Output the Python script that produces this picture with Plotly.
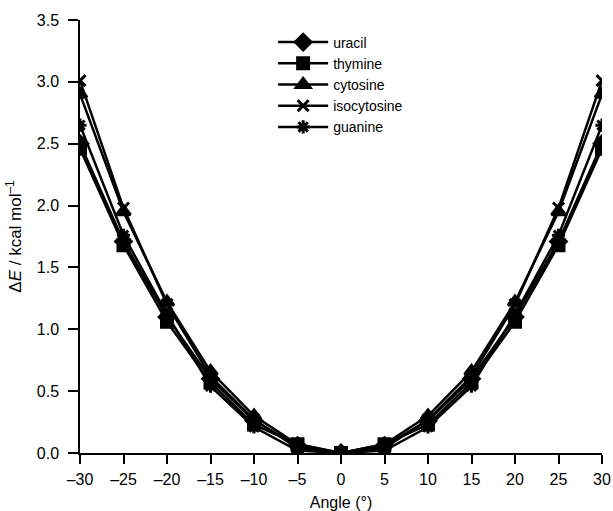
import plotly.graph_objects as go

# Rotation angle (degrees) and energy change (kcal/mol) per base
angles = [-30, -25, -20, -15, -10, -5, 0, 5, 10, 15, 20, 25, 30]
uracil = [2.50, 1.71, 1.10, 0.60, 0.26, 0.06, 0.0, 0.06, 0.26, 0.60, 1.10, 1.71, 2.50]
thymine = [2.46, 1.68, 1.06, 0.57, 0.23, 0.07, 0.0, 0.07, 0.23, 0.57, 1.06, 1.68, 2.46]
cytosine = [2.90, 1.95, 1.22, 0.66, 0.30, 0.07, 0.0, 0.07, 0.30, 0.66, 1.22, 1.95, 2.90]
isocytosine = [3.01, 1.98, 1.20, 0.62, 0.27, 0.04, 0.0, 0.04, 0.27, 0.62, 1.20, 1.98, 3.01]
guanine = [2.65, 1.76, 1.12, 0.54, 0.21, 0.02, 0.0, 0.02, 0.21, 0.54, 1.12, 1.76, 2.65]

series = [
    ("uracil", uracil, "diamond", 12),
    ("thymine", thymine, "square", 11),
    ("cytosine", cytosine, "triangle-up", 12),
    ("isocytosine", isocytosine, "x-thin", 11),
    ("guanine", guanine, "asterisk", 11),
]

fig = go.Figure()
for name, vals, sym, size in series:
    fig.add_trace(go.Scatter(
        x=angles, y=vals, name=name, mode="lines+markers",
        line=dict(color="black", width=2.5),
        marker=dict(symbol=sym, size=size, color="black",
                    line=dict(color="black", width=3)),
    ))

font = "Liberation Sans, Arial, sans-serif"
fig.update_xaxes(
    range=[-30, 30], tickvals=list(range(-30, 31, 5)),
    ticktext=[f"\u2013{abs(v)}" if v < 0 else str(v) for v in range(-30, 31, 5)],
    ticks="outside", ticklen=9, tickwidth=1.5, tickcolor="black",
    showline=True, linecolor="black", linewidth=1.5,
    showgrid=False, zeroline=False, ticklabelstandoff=2,
    ticklabeloverflow="allow",
    title=dict(text="Angle (°)", standoff=12, font=dict(size=16)),
)
fig.update_yaxes(
    range=[0, 3.5], dtick=0.5, tickformat=".1f",
    ticks="outside", ticklen=10, tickwidth=1.5, tickcolor="black",
    showline=True, linecolor="black", linewidth=1.5,
    showgrid=False, zeroline=False, ticklabelstandoff=6,
    title=dict(text="Δ<i>E</i> / kcal mol<sup>–1</sup>", standoff=11, font=dict(size=17)),
)
fig.update_layout(
    width=613, height=511,
    plot_bgcolor="white", paper_bgcolor="white",
    font=dict(family=font, size=16, color="black"),
    margin=dict(l=80, r=11, t=20, b=58, autoexpand=False),
    legend=dict(x=0.37, y=0.985, xanchor="left", yanchor="top",
                bgcolor="rgba(0,0,0,0)", font=dict(size=14),
                itemwidth=50, tracegroupgap=0),
)

# drop the default 8px page margin so the figure fills the window exactly
fig.write_html("out.html", config={"displayModeBar": False},
               post_script="document.body.style.margin = '0';")
